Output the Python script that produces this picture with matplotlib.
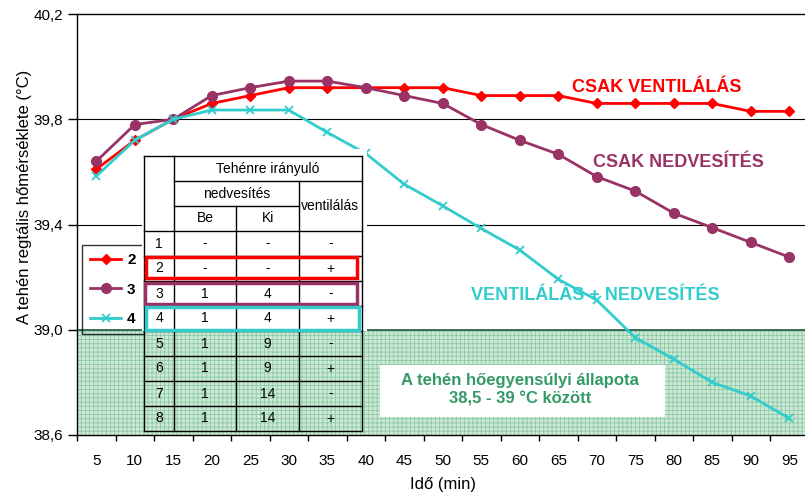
import matplotlib.pyplot as plt
from matplotlib.patches import Rectangle
from matplotlib.lines import Line2D
from matplotlib.ticker import FuncFormatter, MultipleLocator

plt.rcParams['font.family'] = ['Liberation Sans', 'DejaVu Sans']
plt.rcParams['hatch.linewidth'] = 0.6

# adatok
ido = [5, 10, 15, 20, 25, 30, 35, 40, 45, 50, 55, 60, 65, 70, 75, 80, 85, 90, 95]
csak_ventilalas = [39.61, 39.72, 39.80, 39.86, 39.89, 39.92, 39.92, 39.92, 39.92, 39.92,
                   39.89, 39.89, 39.89, 39.86, 39.86, 39.86, 39.86, 39.83, 39.83]
csak_nedvesites = [39.64, 39.78, 39.80, 39.89, 39.92, 39.945, 39.945, 39.92, 39.89, 39.86,
                   39.78, 39.72, 39.667, 39.582, 39.527, 39.443, 39.388, 39.332, 39.276]
vent_nedv = [39.584, 39.72, 39.80, 39.835, 39.835, 39.835, 39.75, 39.67, 39.553, 39.471,
             39.385, 39.303, 39.192, 39.113, 38.970, 38.888, 38.800, 38.748, 38.663]

sor_szam = ['1', '2', '3', '4', '5', '6', '7', '8']
sor_be = ['-', '-', '1', '1', '1', '1', '1', '1']
sor_ki = ['-', '-', '4', '4', '9', '9', '14', '14']
sor_vent = ['-', '+', '-', '+', '-', '+', '-', '+']

PIROS = '#ff0000'
LILA = '#993366'
CIAN = '#33cccc'
ZOLD = '#339966'

W, H = 805, 497
fig = plt.figure(figsize=(W / 100, H / 100), dpi=100)
ax = fig.add_axes([77 / W, 62 / H, 731.5 / W, 421 / H])


def px(x, y):
    # pixel (felülről mérve) -> figure koordináta
    return x / W, 1 - y / H


# hőegyensúlyi sáv
ax.axhspan(38.6, 39.0, facecolor='#cde8d7', edgecolor='#8ccaa4', hatch='++++',
           linewidth=0, zorder=0)
ax.axhline(39.0, color='#2f5f4a', lw=1.3, zorder=1)
for yv in [39.4, 39.8]:
    ax.axhline(yv, color='black', lw=0.8, zorder=1)

ax.plot(ido, csak_ventilalas, color=PIROS, lw=2, marker='D', ms=5.5, label='2', zorder=3)
ax.plot(ido, csak_nedvesites, color=LILA, lw=2, marker='o', ms=7, label='3', zorder=3)
ax.plot(ido, vent_nedv, color=CIAN, lw=2, marker='x', ms=6, mew=1.3, label='4', zorder=3)

ax.set_xlim(2.5, 97.5)
ax.set_ylim(38.6, 40.2)
ax.set_yticks([38.6, 39.0, 39.4, 39.8, 40.2])
ax.yaxis.set_major_formatter(FuncFormatter(lambda v, p: f'{v:.1f}'.replace('.', ',')))
ax.xaxis.set_major_locator(MultipleLocator(5, offset=2.5))
ax.xaxis.set_major_formatter(FuncFormatter(lambda v, p: ''))
ax.set_xticks(ido, minor=True)
ax.set_xticklabels([str(i) for i in ido], minor=True)
ax.tick_params(axis='x', which='major', length=4.5, width=1, direction='out')
ax.tick_params(axis='x', which='minor', length=0, pad=14, labelsize=11)
ax.tick_params(axis='y', length=6.5, width=1, pad=3.5, labelsize=11)
ax.spines['right'].set_visible(False)
for s in ['left', 'bottom', 'top']:
    ax.spines[s].set_linewidth(1)

ax.set_xlabel('Idő (min)', fontsize=12, labelpad=6)
ax.set_ylabel('A tehén regtális hőmérséklete (°C)', fontsize=12, labelpad=8)
ax.yaxis.set_label_coords(-0.062, 0.565)

leg = ax.legend(loc='upper left', bbox_to_anchor=px(82, 245), bbox_transform=fig.transFigure,
                frameon=True, fancybox=False, edgecolor='black', facecolor='none',
                borderpad=0.55, labelspacing=1.0, handlelength=2.0, handletextpad=0.4,
                borderaxespad=0, prop={'weight': 'bold', 'size': 11})
leg.get_frame().set_linewidth(1)

# görbék feliratai
ax.text(77.8, 39.92, 'CSAK VENTILÁLÁS', color=PIROS, fontsize=13, fontweight='bold',
        ha='center', va='center', zorder=4)
ax.text(80.55, 39.634, 'CSAK NEDVESÍTÉS', color=LILA, fontsize=13, fontweight='bold',
        ha='center', va='center', zorder=4)
ax.text(69.8, 39.132, 'VENTILÁLÁS + NEDVESÍTÉS', color=CIAN, fontsize=13, fontweight='bold',
        ha='center', va='center', zorder=4)

ax.add_patch(Rectangle((41.85, 38.668), 37.0, 0.198, facecolor='white', edgecolor='none',
                       zorder=2))
ax.text(60.0, 38.771, 'A tehén hőegyensúlyi állapota\n38,5 - 39 °C között', color=ZOLD,
        fontsize=12, fontweight='bold', ha='center', va='center', linespacing=1.3, zorder=4)

# táblázat
cx = [144, 174.3, 236, 299.3, 361.7]
ty, rh = 156, 25
fz = 10
x0, y0 = px(142, 149)
x1, y1 = px(367, 331)
fig.patches.append(Rectangle((x0, y1), x1 - x0, y0 - y1, transform=fig.transFigure,
                             facecolor='white', edgecolor='none', zorder=5))


def hline(xa, xb, y, color='black', lw=1):
    a, b = px(xa, y), px(xb, y)
    fig.lines.append(Line2D([a[0], b[0]], [a[1], b[1]], transform=fig.transFigure,
                            color=color, lw=lw, zorder=6))


def vline(x, ya, yb, color='black', lw=1):
    a, b = px(x, ya), px(x, yb)
    fig.lines.append(Line2D([a[0], b[0]], [a[1], b[1]], transform=fig.transFigure,
                            color=color, lw=lw, zorder=6))


def cell_text(x, y, s):
    fx, fy = px(x, y)
    fig.text(fx, fy, s, fontsize=fz, ha='center', va='center', zorder=7)


bottom = ty + 3 * rh + 8 * rh
hline(cx[0], cx[4], ty)
hline(cx[1], cx[4], ty + rh)
hline(cx[1], cx[3], ty + 2 * rh)
for i in range(9):
    hline(cx[0], cx[4], ty + 3 * rh + i * rh)
vline(cx[0], ty, bottom)
vline(cx[1], ty, bottom)
vline(cx[2], ty + 2 * rh, bottom)
vline(cx[3], ty + rh, bottom)
vline(cx[4], ty, bottom)

cell_text((cx[1] + cx[4]) / 2, ty + rh / 2, 'Tehénre irányuló')
cell_text((cx[1] + cx[3]) / 2, ty + 1.5 * rh, 'nedvesítés')
cell_text((cx[3] + cx[4]) / 2, ty + 2 * rh, 'ventilálás')
cell_text((cx[1] + cx[2]) / 2, ty + 2.5 * rh, 'Be')
cell_text((cx[2] + cx[3]) / 2, ty + 2.5 * rh, 'Ki')
for i in range(len(sor_szam)):
    yc = ty + 3 * rh + i * rh + rh / 2
    cell_text((cx[0] + cx[1]) / 2, yc, sor_szam[i])
    cell_text((cx[1] + cx[2]) / 2, yc, sor_be[i])
    cell_text((cx[2] + cx[3]) / 2, yc, sor_ki[i])
    cell_text((cx[3] + cx[4]) / 2, yc, sor_vent[i])

# kiemelt sorok keretei
for (xa, ya, xb, yb), c in [((146, 257, 357, 278), PIROS),
                            ((145, 283, 357, 304), LILA),
                            ((146, 307, 359, 330), CIAN)]:
    fa, fb = px(xa, yb), px(xb, ya)
    fig.patches.append(Rectangle(fa, fb[0] - fa[0], fb[1] - fa[1], transform=fig.transFigure,
                                 facecolor='none', edgecolor=c, lw=2.5, zorder=8))

fig.savefig('out.png', dpi=100)
